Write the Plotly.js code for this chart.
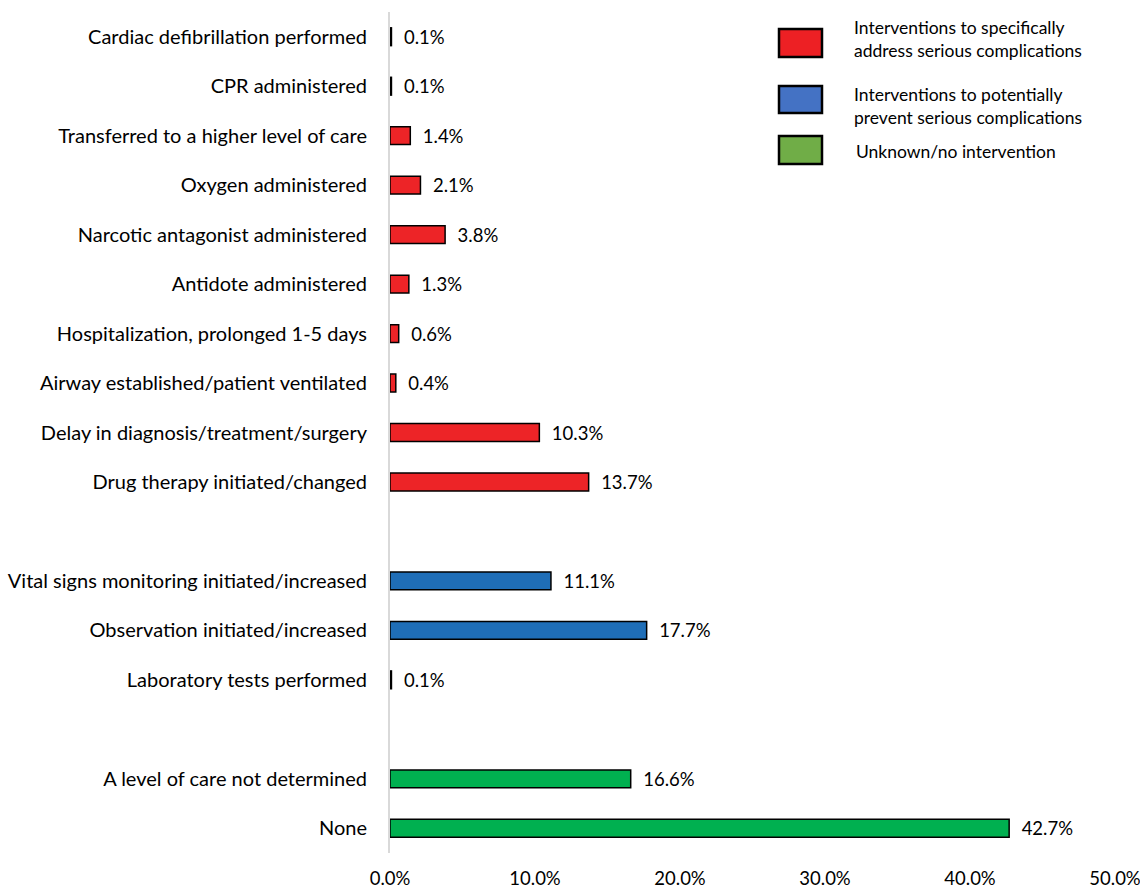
<!DOCTYPE html>
<html>
<head>
<meta charset="utf-8">
<script src="https://cdn.plot.ly/plotly-3.0.1.min.js"></script>
<style>html,body{margin:0;padding:0;background:#fff;}#chart{width:1140px;height:888px;}</style>
</head>
<body>
<div id="chart"></div>
<script>
const redCategories = ["Cardiac defibrillation performed","CPR administered","Transferred to a higher level of care","Oxygen administered","Narcotic antagonist administered","Antidote administered","Hospitalization, prolonged 1-5 days","Airway established/patient ventilated","Delay in diagnosis/treatment/surgery","Drug therapy initiated/changed"];
const redValues = [0.1,0.1,1.4,2.1,3.8,1.3,0.6,0.4,10.3,13.7];
const blueCategories = ["Vital signs monitoring initiated/increased","Observation initiated/increased","Laboratory tests performed"];
const blueValues = [11.1,17.7,0.1];
const greenCategories = ["A level of care not determined","None"];
const greenValues = [16.6,42.7];
const legendNames = ["Interventions to specifically<br>address serious complications","Interventions to potentially<br>prevent serious complications","Unknown/no intervention"];
const legendColors = ["#ED2024","#4472C4","#70AD47"];
const barColors = ["#ED2427","#1F6EB7","#00B050"];
const xTickValues = [0,10,20,30,40,50];
const xTickLabels = ["0.0%","10.0%","20.0%","30.0%","40.0%","50.0%"];

const FONT = "Lato, 'Open Sans', sans-serif";
const categoryOrder = [...redCategories, " ", ...blueCategories, "  ", ...greenCategories];

function mk(cats, vals, color){
  return {
    type:"bar", orientation:"h", y:cats, x:vals,
    marker:{color:color, line:{color:"#000", width:1.5}},
    text: vals.map(v => v.toFixed(1) + "%"),
    texttemplate: "\u00a0\u00a0%{text}",
    textposition:"outside", cliponaxis:false, constraintext:"none",
    textfont:{family:FONT, size:18.5, color:"#000"},
    hoverinfo:"none", showlegend:false
  };
}
const data = [mk(redCategories, redValues, barColors[0]), mk(blueCategories, blueValues, barColors[1]), mk(greenCategories, greenValues, barColors[2])];

const plotTop = 12, plotBottom = 853, plotLeft = 390, plotRight = 1115;
const px = x => (x - plotLeft) / (plotRight - plotLeft);
const py = y => (plotBottom - y) / (plotBottom - plotTop);
const shapes = [], annotations = [];
const legendBoxY = [[29,57],[86,113],[136,164]];
const legendTextY = [39, 105.5, 151];
const legendTextX = [852, 852, 854];
legendNames.forEach((n,i)=>{
  shapes.push({type:"rect", xref:"paper", yref:"paper",
    x0:px(779), x1:px(822), y0:py(legendBoxY[i][1]), y1:py(legendBoxY[i][0]),
    fillcolor:legendColors[i], line:{color:"#000", width:2.5}});
  annotations.push({xref:"paper", yref:"paper", x:px(legendTextX[i]), y:py(legendTextY[i]),
    xanchor:"left", yanchor:"middle", align:"left", showarrow:false, text:n,
    font:{family:FONT, size:17.5, color:"#000"}});
});

const layout = {
  width:1140, height:888,
  margin:{l:plotLeft, r:1140-plotRight, t:plotTop, b:888-plotBottom},
  paper_bgcolor:"#fff", plot_bgcolor:"#fff",
  font:{family:FONT, size:20, color:"#000"},
  barmode:"overlay", bargap:0.64,
  xaxis:{range:[0,50], tickvals:xTickValues, ticktext:xTickLabels, showgrid:false, zeroline:false,
         showline:false, ticks:"", ticklabelstandoff:12, ticklabeloverflow:"allow",
         tickfont:{family:FONT, size:18.5, color:"#000"}, fixedrange:true},
  yaxis:{type:"category", categoryorder:"array", categoryarray:categoryOrder, autorange:"reversed",
         showline:true, linecolor:"#D9D9D9", linewidth:2, showgrid:false, zeroline:false, ticks:"",
         ticklabelstandoff:17, tickfont:{family:FONT, size:20, color:"#000"}, fixedrange:true},
  shapes:shapes, annotations:annotations
};
Plotly.newPlot("chart", data, layout, {displayModeBar:false, staticPlot:true});
</script>
</body>
</html>
